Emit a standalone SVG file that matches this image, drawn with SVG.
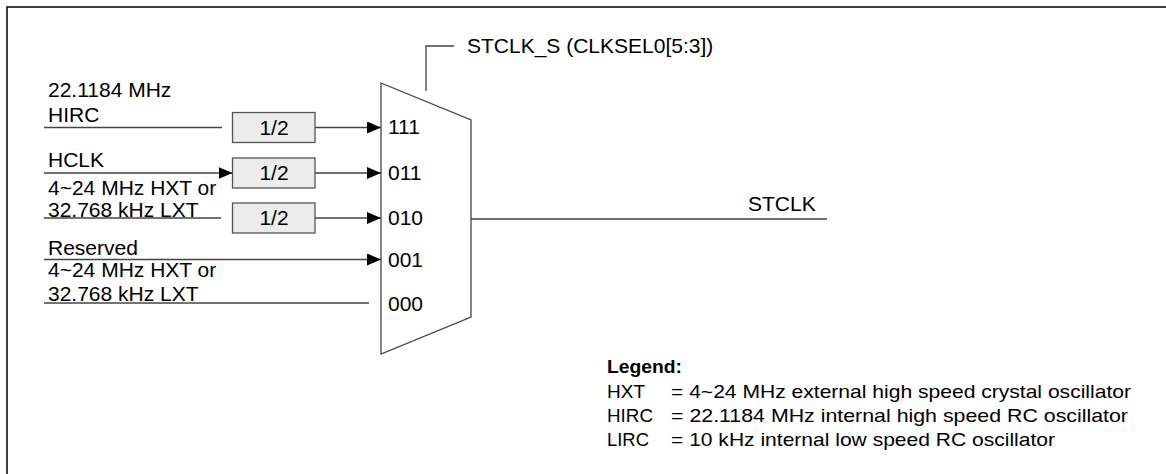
<svg xmlns="http://www.w3.org/2000/svg" width="1166" height="474" viewBox="0 0 1166 474">
<defs>
<style>
text{font-family:"Liberation Sans",Arial,sans-serif;fill:#000}
.t{font-size:21px}
.lg{font-size:18.5px}
.b{font-weight:bold}
.w{stroke:#444;stroke-width:1.3;fill:none}
.box{fill:#ececec;stroke:#555;stroke-width:1.3}
</style>
<marker id="ah" markerWidth="14" markerHeight="12" refX="14" refY="6" orient="auto" markerUnits="userSpaceOnUse">
<path d="M0,0 L14,6 L0,12 Z" fill="#000"/>
</marker>
</defs>
<rect x="0" y="0" width="1166" height="474" fill="#fff"/>
<path d="M7,474 V7 H1166" fill="none" stroke="#000" stroke-width="1.5"/>

<g id="select">
<polyline class="w" points="454,46 426,46 426,91"/>
<text class="t" x="467" y="53">STCLK_S (CLKSEL0[5:3])</text>
</g>

<g id="mux">
<polygon points="381,83 471,120 471,317 381,354" fill="#fff" stroke="#444" stroke-width="1.3"/>
<text class="t" x="388" y="134">111</text>
<text class="t" x="388" y="180">011</text>
<text class="t" x="388" y="225">010</text>
<text class="t" x="388" y="267">001</text>
<text class="t" x="388" y="311">000</text>
</g>

<g id="div1">
<rect class="box" x="232.5" y="112.5" width="82.5" height="30"/>
<text class="t" x="274" y="134.5" text-anchor="middle">1/2</text>
</g>
<g id="div2">
<rect class="box" x="232.5" y="158" width="82.5" height="30"/>
<text class="t" x="274" y="180" text-anchor="middle">1/2</text>
</g>
<g id="div3">
<rect class="box" x="232.5" y="203" width="82.5" height="30"/>
<text class="t" x="274" y="225" text-anchor="middle">1/2</text>
</g>

<g id="labels">
<text class="t" x="48" y="97">22.1184 MHz</text>
<text class="t" x="48" y="122">HIRC</text>
<text class="t" x="48" y="167">HCLK</text>
<text class="t" x="48" y="195">4~24 MHz HXT or</text>
<text class="t" x="48" y="216.5">32.768 kHz LXT</text>
<text class="t" x="48" y="255">Reserved</text>
<text class="t" x="48" y="277">4~24 MHz HXT or</text>
<text class="t" x="48" y="301">32.768 kHz LXT</text>
<text class="t" x="748" y="211">STCLK</text>
</g>

<g id="connectors">
<line class="w" x1="44" y1="127.5" x2="222" y2="127.5"/>
<line class="w" x1="315" y1="127.5" x2="381" y2="127.5" marker-end="url(#ah)"/>
<line class="w" x1="44" y1="173" x2="232.5" y2="173" marker-end="url(#ah)"/>
<line class="w" x1="315" y1="173" x2="381" y2="173" marker-end="url(#ah)"/>
<line class="w" x1="44" y1="218" x2="221" y2="218"/>
<line class="w" x1="315" y1="218" x2="381" y2="218" marker-end="url(#ah)"/>
<line class="w" x1="44" y1="259.5" x2="381" y2="259.5" marker-end="url(#ah)"/>
<line class="w" x1="44" y1="303" x2="369" y2="303"/>
<line class="w" x1="471" y1="219" x2="827" y2="219"/>
</g>

<g id="legend">
<text class="lg b" x="607" y="373" textLength="75" lengthAdjust="spacingAndGlyphs">Legend:</text>
<text class="lg" x="607" y="398" textLength="38" lengthAdjust="spacingAndGlyphs">HXT</text>
<text class="lg" x="671" y="398" textLength="460" lengthAdjust="spacingAndGlyphs">= 4~24 MHz external high speed crystal oscillator</text>
<text class="lg" x="607" y="422" textLength="46" lengthAdjust="spacingAndGlyphs">HIRC</text>
<text class="lg" x="671" y="422" textLength="457" lengthAdjust="spacingAndGlyphs">= 22.1184 MHz internal high speed RC oscillator</text>
<text class="lg" x="607" y="446" textLength="42" lengthAdjust="spacingAndGlyphs">LIRC</text>
<text class="lg" x="671" y="446" textLength="384" lengthAdjust="spacingAndGlyphs">= 10 kHz internal low speed RC oscillator</text>
</g>
</svg>
